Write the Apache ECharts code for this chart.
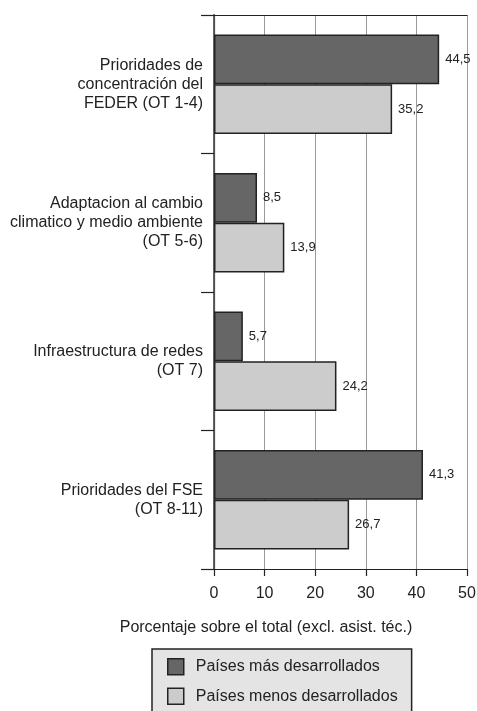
<!DOCTYPE html>
<html>
<head>
<meta charset="utf-8">
<script src="https://cdn.jsdelivr.net/npm/echarts@6/dist/echarts.min.js"></script>
<style>
html,body{margin:0;padding:0;background:#fff;}
#chart{width:477px;height:711px;}
</style>
</head>
<body>
<div id="chart"></div>
<script>
const categories = [
  "Prioridades de\nconcentración del\nFEDER (OT 1-4)",
  "Adaptacion al cambio\nclimatico y medio ambiente\n(OT 5-6)",
  "Infraestructura de redes\n(OT 7)",
  "Prioridades del FSE\n(OT 8-11)"
];
const seriesNames = ["Países más desarrollados", "Países menos desarrollados"];
const masDesarrollados = [44.5, 8.5, 5.7, 41.3];
const menosDesarrollados = [35.2, 13.9, 24.2, 26.7];
const xTicks = [0, 10, 20, 30, 40, 50];
const axisTitle = "Porcentaje sobre el total (excl. asist. téc.)";

const FONT = '"Liberation Sans", Arial, sans-serif';
const chart = echarts.init(document.getElementById('chart'), null, {renderer: 'canvas'});
const fmt = p => String(p.value).replace('.', ',');

chart.setOption({
  animation: false,
  backgroundColor: '#ffffff',
  textStyle: {fontFamily: FONT},
  grid: {left: 214, right: 10, top: 15, bottom: 142, containLabel: false, outerBoundsMode: 'none'},
  xAxis: [{
    type: 'value', min: xTicks[0], max: xTicks[xTicks.length - 1], interval: 10,
    position: 'bottom',
    axisLine: {show: true, lineStyle: {color: '#222', width: 1.2}},
    axisTick: {show: true, length: 7, lineStyle: {color: '#222', width: 1.2}},
    axisLabel: {color: '#222', fontSize: 16, margin: 17, fontFamily: FONT},
    splitLine: {show: true, lineStyle: {color: '#9a9a9a', width: 1}}
  }, {
    type: 'value', min: xTicks[0], max: xTicks[xTicks.length - 1], interval: 10,
    position: 'top',
    axisLine: {show: true, lineStyle: {color: '#222', width: 1.2}},
    axisTick: {show: false}, axisLabel: {show: false}, splitLine: {show: false}
  }],
  yAxis: [{
    type: 'category', data: categories, inverse: true,
    axisLine: {show: true, lineStyle: {color: '#222', width: 1.2}},
    axisTick: {show: true, length: 13, lineStyle: {color: '#222', width: 1.2}},
    axisLabel: {color: '#222', fontSize: 16, lineHeight: 19, margin: 11, fontFamily: FONT, align: 'right'},
    splitLine: {show: false}
  }, {
    type: 'category', data: categories, inverse: true, position: 'right',
    axisLine: {show: true, lineStyle: {color: '#555', width: 1.8}},
    axisTick: {show: false}, axisLabel: {show: false}, splitLine: {show: false}
  }],
  legend: {
    orient: 'vertical', left: 152, top: 649, height: 70,
    padding: [9, 14, 9, 15], itemGap: 12,
    itemWidth: 16, itemHeight: 16,
    backgroundColor: '#e4e4e4', borderColor: '#222', borderWidth: 1.5, borderRadius: 0,
    icon: 'rect',
    itemStyle: {borderColor: '#222', borderWidth: 1.5},
    textStyle: {color: '#222', fontSize: 16, fontFamily: FONT, padding: [0, 0, 0, 7]},
    data: seriesNames
  },
  graphic: [{
    type: 'text', x: 266, y: 628,
    style: {text: axisTitle, fill: '#222', font: '16px ' + FONT, textAlign: 'center', textVerticalAlign: 'middle'}
  }],
  series: [{
    name: seriesNames[0], type: 'bar', data: masDesarrollados,
    barGap: '0%', barCategoryGap: '28%',
    itemStyle: {color: '#666666', borderColor: '#222', borderWidth: 1.5},
    label: {show: true, position: 'right', distance: 6, color: '#222', fontSize: 13, fontFamily: FONT, formatter: fmt}
  }, {
    name: seriesNames[1], type: 'bar', data: menosDesarrollados,
    barGap: '0%', barCategoryGap: '28%',
    itemStyle: {color: '#cccccc', borderColor: '#222', borderWidth: 1.5},
    label: {show: true, position: 'right', distance: 6, color: '#222', fontSize: 13, fontFamily: FONT, formatter: fmt}
  }]
});
</script>
</body>
</html>
